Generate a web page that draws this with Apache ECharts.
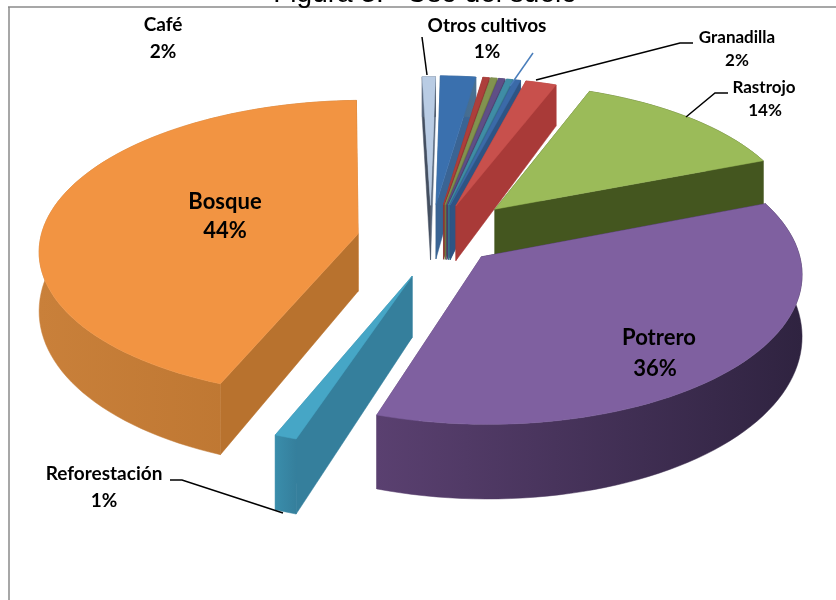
<!DOCTYPE html>
<html><head><meta charset="utf-8">
<style>html,body{margin:0;padding:0;background:#fff}#c{width:836px;height:600px}</style>
<script src="https://cdn.jsdelivr.net/npm/echarts@6/dist/echarts.min.js"></script>
</head><body><div id="c"></div>
<script>
// ---- data (clockwise, starting at Rastrojo) ----
const categories = ['Rastrojo','Potrero','Reforestación','Bosque','Otros cultivos','Café','s/e 1','s/e 2','s/e 3','s/e 4','s/e 5','Granadilla'];
const values = [13.2,36,1,43.4,0.75,2,0.36,0.36,0.36,0.36,0.36,1.75];
const topColors = ['#9BBB59','#7F60A0','#46A6C6','#F29442','#B9CCE4','#3A70AE','#AD3F3B','#82924F','#5F4F86','#3F8CA5','#3B6AA8','#C8504C'];
const wallColors = [['#44561F','#44561F'],['#5A4070','#2F2340'],['#3A8DAB','#357F9C'],['#C9803A','#B8722E'],['#5A6A80','#444F60'],['#3A6494','#4A7090'],['#8E3431','#8E3431'],['#6B7840','#6B7840'],['#4C3F6C','#4C3F6C'],['#357488','#357488'],['#2E5484','#2E5484'],['#A93A38','#A93A38']];

// ---- projection of the tilted pie ----
const center = [430,235], Rx = 318, Ry = 148, persp = 0.10, explode = 0.24, depth = 58, depthPersp = 0.25, startDeg = 21;
const sliceShift = [[12,-1],[-5,-3],[9,7],[3,5],[1,5],[0,4],[2,4],[2,4],[2,4],[2,4],[2,4],[3,4]];
const sliceScale = [0.96,0.985,1,1,1,1,1,1,1,1,1,1];

function project(X,Y,z,shift){
  const s = 1/(1-persp*Y);
  return [center[0]+Rx*X*s+shift[0], center[1]+Ry*Y*s+shift[1]+(z?depth*(1+depthPersp*Y):0)];
}
const total = values.reduce((a,b)=>a+b,0);
const slices = []; {
  let a = startDeg;
  values.forEach((v,i)=>{ const span = v/total*360; slices.push({i,a0:a,a1:a+span}); a += span; });
}
function geom(sl){
  const r = d=>d*Math.PI/180, m = r((sl.a0+sl.a1)/2), sc = sliceScale[sl.i];
  const ax = explode*Math.sin(m), ay = -explode*Math.cos(m);
  const n = Math.max(2,Math.ceil((sl.a1-sl.a0)/2));
  const arc = [];
  for(let k=0;k<=n;k++){ const t = r(sl.a0+(sl.a1-sl.a0)*k/n); arc.push([ax+sc*Math.sin(t),ay-sc*Math.cos(t)]); }
  return {apex:[ax,ay],arc};
}
const rank = slices.map(s=>{ const g=geom(s); return {i:s.i,key:g.apex[1]}; }).sort((a,b)=>a.key-b.key);
const order = new Array(values.length); rank.forEach((r,idx)=>order[r.i]=idx);

function poly(points,fill){ return {type:'polygon',shape:{points},style:{fill,stroke:fill,lineWidth:0.5}}; }

function renderSlice(params,api){
  const sl = slices[api.value(0)], i = sl.i, g = geom(sl), sh = sliceShift[i];
  const P = p=>project(p[0],p[1],false,sh), B = p=>project(p[0],p[1],true,sh);
  const xs = g.arc.map(p=>P(p)[0]);
  const minX = Math.min(...xs), maxX = Math.max(...xs);
  const [c0,c1] = wallColors[i];
  const wallFill = new echarts.graphic.LinearGradient(minX,0,maxX,0,[{offset:0,color:c0},{offset:1,color:c1}],true);
  const first = g.arc[0], last = g.arc[g.arc.length-1];
  const children = [];
  const walls = [
    {pts:[P(g.apex),P(first),B(first),B(g.apex)],fill:c1,k:(g.apex[1]+first[1])/2},
    {pts:[P(g.apex),P(last),B(last),B(g.apex)],fill:c0,k:(g.apex[1]+last[1])/2},
    {pts:g.arc.map(P).concat(g.arc.slice().reverse().map(B)),fill:wallFill,k:(first[1]+last[1])/2+0.5}
  ].sort((a,b)=>a.k-b.k);
  walls.forEach(w=>children.push(poly(w.pts,w.fill)));
  children.push(poly([P(g.apex)].concat(g.arc.map(P)),topColors[i]));
  return {type:'group',z2:order[i],children};
}

// ---- texts and leader lines ----
const labelTexts = [
  ['Café',163,25,19],['2%',163,52,19],
  ['Otros cultivos',487,26,19],['1%',487,52,19],
  ['Granadilla',737,38,17],['2%',737,61,17],
  ['Rastrojo',764,88,17],['14%',765,111,17],
  ['Bosque',225,202,22],['44%',225,231,22],
  ['Potrero',659,338,22],['36%',655,369,22],
  ['Reforestación',104,474,19],['1%',104,501,19]
];
const leaders = [
  [[[422,37],[427,75]],'#000'],
  [[[536,80],[680,43],[693,43]],'#000'],
  [[[686,117],[715,93],[728,93]],'#000'],
  [[[170,480],[182,480],[283,513]],'#000'],
  [[[533,53],[510,86]],'#4A7EBB']
];

const graphic = [
  {type:'line',z:0,shape:{x1:8,y1:7,x2:836,y2:7},style:{stroke:'#8a8a8a',lineWidth:1.5}},
  {type:'line',z:0,shape:{x1:9,y1:7,x2:9,y2:600},style:{stroke:'#8a8a8a',lineWidth:1.5}},
  {type:'text',z:10,x:425,y:-6,style:{text:'Figura 3.   Uso del suelo',font:'28px "Liberation Sans"',fill:'#000',align:'center',verticalAlign:'middle'}}
];
labelTexts.forEach(t=>graphic.push({type:'text',z:10,x:t[1],y:t[2],style:{text:t[0],font:'bold '+t[3]+'px Lato',fill:'#000',align:'center',verticalAlign:'middle'}}));
leaders.forEach(l=>graphic.push({type:'polyline',z:9,shape:{points:l[0]},style:{stroke:l[1],lineWidth:1.5,fill:'none'}}));

const chart = echarts.init(document.getElementById('c'),null,{renderer:'canvas'});
chart.setOption({
  animation:false,
  graphic,
  series:[{
    type:'custom',coordinateSystem:'none',clip:false,silent:true,
    renderItem:renderSlice,
    data:rank.map(r=>({name:categories[r.i],value:[r.i,values[r.i]]})),
    encode:{value:1}
  }]
});
</script></body></html>
